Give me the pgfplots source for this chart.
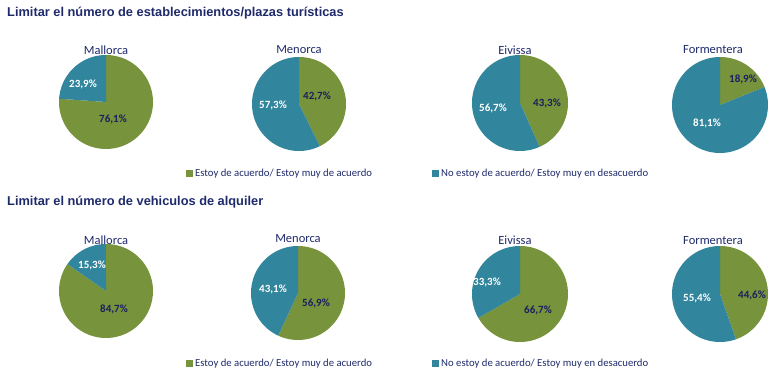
\documentclass[border=0pt]{standalone}
\usepackage{pgfplots}
\pgfplotsset{compat=1.18}
\usepackage{fontspec}
\setmainfont{Carlito}
\newfontfamily\arialfont{Liberation Sans}
\definecolor{cg}{HTML}{77933C}
\definecolor{ct}{HTML}{31859C}
\definecolor{navy}{HTML}{1F2A6B}
\definecolor{lab}{HTML}{1B1F5E}
\begin{document}
\begin{tikzpicture}
\begin{axis}[x=1pt,y=1pt,y dir=reverse,xmin=0,xmax=780,ymin=0,ymax=374,
  hide axis,clip=false,samples=90]
\path (axis cs:0,0) (axis cs:780,374);
% ---- Row 1: establecimientos/plazas
% Mallorca: 76.1 / 23.9
\addplot[fill=cg,draw=none,domain=0:76.1] ({106+47*sin(3.6*x)},{102-47*cos(3.6*x)}) -- (axis cs:106,102) -- cycle;
\addplot[fill=ct,draw=none,domain=76.1:100] ({106+47*sin(3.6*x)},{102-47*cos(3.6*x)}) -- (axis cs:106,102) -- cycle;
% Menorca: 42.7 / 57.3
\addplot[fill=cg,draw=none,domain=0:42.7] ({299+47*sin(3.6*x)},{104-47*cos(3.6*x)}) -- (axis cs:299,104) -- cycle;
\addplot[fill=ct,draw=none,domain=42.7:100] ({299+47*sin(3.6*x)},{104-47*cos(3.6*x)}) -- (axis cs:299,104) -- cycle;
% Eivissa: 43.3 / 56.7
\addplot[fill=cg,draw=none,domain=0:43.3] ({520+48*sin(3.6*x)},{103-48*cos(3.6*x)}) -- (axis cs:520,103) -- cycle;
\addplot[fill=ct,draw=none,domain=43.3:100] ({520+48*sin(3.6*x)},{103-48*cos(3.6*x)}) -- (axis cs:520,103) -- cycle;
% Formentera: 18.9 / 81.1
\addplot[fill=cg,draw=none,domain=0:18.9] ({720+48*sin(3.6*x)},{105-48*cos(3.6*x)}) -- (axis cs:720,105) -- cycle;
\addplot[fill=ct,draw=none,domain=18.9:100] ({720+48*sin(3.6*x)},{105-48*cos(3.6*x)}) -- (axis cs:720,105) -- cycle;
% ---- Row 2: vehiculos de alquiler
% Mallorca: 84.7 / 15.3
\addplot[fill=cg,draw=none,domain=0:84.7] ({106+47*sin(3.6*x)},{291-47*cos(3.6*x)}) -- (axis cs:106,291) -- cycle;
\addplot[fill=ct,draw=none,domain=84.7:100] ({106+47*sin(3.6*x)},{291-47*cos(3.6*x)}) -- (axis cs:106,291) -- cycle;
% Menorca: 56.9 / 43.1
\addplot[fill=cg,draw=none,domain=0:56.9] ({298+47*sin(3.6*x)},{293-47*cos(3.6*x)}) -- (axis cs:298,293) -- cycle;
\addplot[fill=ct,draw=none,domain=56.9:100] ({298+47*sin(3.6*x)},{293-47*cos(3.6*x)}) -- (axis cs:298,293) -- cycle;
% Eivissa: 66.7 / 33.3
\addplot[fill=cg,draw=none,domain=0:66.7] ({520+48*sin(3.6*x)},{294-48*cos(3.6*x)}) -- (axis cs:520,294) -- cycle;
\addplot[fill=ct,draw=none,domain=66.7:100] ({520+48*sin(3.6*x)},{294-48*cos(3.6*x)}) -- (axis cs:520,294) -- cycle;
% Formentera: 44.6 / 55.4
\addplot[fill=cg,draw=none,domain=0:44.6] ({720+48*sin(3.6*x)},{294-48*cos(3.6*x)}) -- (axis cs:720,294) -- cycle;
\addplot[fill=ct,draw=none,domain=44.6:100] ({720+48*sin(3.6*x)},{294-48*cos(3.6*x)}) -- (axis cs:720,294) -- cycle;
% ---- section titles
\node[anchor=west,font=\arialfont\bfseries\fontsize{12.8}{15}\selectfont,text=navy,inner sep=0pt] at (axis cs:7,13) {Limitar el número de establecimientos/plazas turísticas};
\node[anchor=west,font=\arialfont\bfseries\fontsize{12.8}{15}\selectfont,text=navy,inner sep=0pt] at (axis cs:7,202) {Limitar el número de vehiculos de alquiler};
% ---- pie titles
\begin{scope}[every node/.style={font=\fontsize{12.5}{14}\selectfont,text=navy,inner sep=0pt}]
\node at (axis cs:106,50) {Mallorca};
\node at (axis cs:299,50) {Menorca};
\node at (axis cs:515,50) {Eivissa};
\node at (axis cs:713,50) {Formentera};
\node at (axis cs:106,240) {Mallorca};
\node at (axis cs:298,239) {Menorca};
\node at (axis cs:515,240) {Eivissa};
\node at (axis cs:713,241) {Formentera};
\end{scope}
% ---- value labels
\begin{scope}[every node/.style={font=\bfseries\fontsize{11}{13}\selectfont,inner sep=0pt}]
\node[text=lab] at (axis cs:113,119) {76,1\%};
\node[text=white] at (axis cs:83,84) {23,9\%};
\node[text=lab] at (axis cs:317,96) {42,7\%};
\node[text=white] at (axis cs:273,105) {57,3\%};
\node[text=lab] at (axis cs:547,103) {43,3\%};
\node[text=white] at (axis cs:493,108) {56,7\%};
\node[text=lab] at (axis cs:743,79) {18,9\%};
\node[text=white] at (axis cs:707,123) {81,1\%};
\node[text=lab] at (axis cs:114,309) {84,7\%};
\node[text=white] at (axis cs:92,265) {15,3\%};
\node[text=lab] at (axis cs:316,303) {56,9\%};
\node[text=white] at (axis cs:273,289) {43,1\%};
\node[text=lab] at (axis cs:538,310) {66,7\%};
\node[text=white] at (axis cs:487,282) {33,3\%};
\node[text=lab] at (axis cs:752,295) {44,6\%};
\node[text=white] at (axis cs:697,298) {55,4\%};
\end{scope}
% ---- legends
\begin{scope}[every node/.style={font=\fontsize{10.7}{12}\selectfont,text=navy,inner sep=0pt,anchor=west}]
\fill[cg] (axis cs:186,170) rectangle (axis cs:193,177);
\node at (axis cs:195,173.5) {Estoy de acuerdo/ Estoy muy de acuerdo};
\fill[ct] (axis cs:432,170) rectangle (axis cs:439,177);
\node at (axis cs:441,173.5) {No estoy de acuerdo/ Estoy muy en desacuerdo};
\fill[cg] (axis cs:186,360) rectangle (axis cs:193,367);
\node at (axis cs:195,363.5) {Estoy de acuerdo/ Estoy muy de acuerdo};
\fill[ct] (axis cs:432,360) rectangle (axis cs:439,367);
\node at (axis cs:441,363.5) {No estoy de acuerdo/ Estoy muy en desacuerdo};
\end{scope}
\end{axis}
\end{tikzpicture}
\end{document}
